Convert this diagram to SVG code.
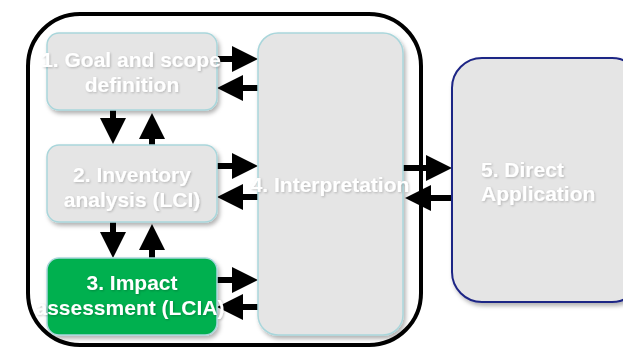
<svg xmlns="http://www.w3.org/2000/svg" width="623" height="349" viewBox="0 0 623 349">
  <defs>
    <filter id="shadow" x="-10%" y="-10%" width="130%" height="130%">
      <feDropShadow dx="2" dy="3" stdDeviation="2" flood-color="#000" flood-opacity="0.3"/>
    </filter>
    <filter id="textShadow" x="-10%" y="-30%" width="120%" height="160%">
      <feDropShadow dx="1" dy="1" stdDeviation="1.2" flood-color="#000" flood-opacity="0.22"/>
    </filter>
    <marker id="head" viewBox="0 0 26 26" refX="0" refY="13" markerWidth="26" markerHeight="26" markerUnits="userSpaceOnUse" orient="auto">
      <path d="M0,0 L26,13 L0,26 Z" fill="#000"/>
    </marker>
    <style>
      .frame { fill: none; stroke: #000; stroke-width: 4; }
      .step { fill: #e5e5e5; stroke: #a9d6db; stroke-width: 1.5; filter: url(#shadow); }
      .active { fill: #00b050; stroke: #a9d6db; stroke-width: 1.5; filter: url(#shadow); }
      .app { fill: #e5e5e5; stroke: #1f2585; stroke-width: 2; filter: url(#shadow); }
      .label { font-family: "Liberation Sans", Arial, sans-serif; font-weight: bold; font-size: 21px; fill: #fff; text-anchor: middle; filter: url(#textShadow); }
      .left { text-anchor: start; }
      .conn { stroke: #000; stroke-width: 6; fill: none; marker-end: url(#head); }
    </style>
  </defs>

  <rect width="623" height="349" fill="#fff"/>

  <!-- LCA framework boundary -->
  <rect class="frame" x="28" y="14" width="393" height="331" rx="52" ry="52"/>

  <g id="connectors">
    <!-- goal & scope <-> interpretation -->
    <line class="conn" x1="217" y1="59" x2="232" y2="59"/>
    <line class="conn" x1="260" y1="88" x2="243" y2="88"/>
    <!-- inventory <-> interpretation -->
    <line class="conn" x1="217" y1="166" x2="232" y2="166"/>
    <line class="conn" x1="260" y1="197" x2="243" y2="197"/>
    <!-- impact assessment <-> interpretation -->
    <line class="conn" x1="217" y1="280" x2="232" y2="280"/>
    <line class="conn" x1="260" y1="307" x2="243" y2="307"/>
    <!-- goal & scope <-> inventory -->
    <line class="conn" x1="113" y1="110" x2="113" y2="118"/>
    <line class="conn" x1="152" y1="145" x2="152" y2="139"/>
    <!-- inventory <-> impact assessment -->
    <line class="conn" x1="113" y1="222" x2="113" y2="232"/>
    <line class="conn" x1="152" y1="258" x2="152" y2="250"/>
    <!-- interpretation <-> direct application -->
    <line class="conn" x1="403" y1="168" x2="426" y2="168"/>
    <line class="conn" x1="452" y1="198" x2="431" y2="198"/>
  </g>

  <g id="goal-scope">
    <rect class="step" x="47" y="33" width="170" height="77" rx="12" ry="12"/>
    <text class="label" x="131" y="67">1. Goal and scope</text>
    <text class="label" x="132" y="92">definition</text>
  </g>

  <g id="inventory">
    <rect class="step" x="47" y="145" width="170" height="77" rx="12" ry="12"/>
    <text class="label" x="132" y="182">2. Inventory</text>
    <text class="label" x="132" y="207">analysis (LCI)</text>
  </g>

  <g id="impact-assessment">
    <rect class="active" x="47" y="258" width="170" height="77" rx="12" ry="12"/>
    <text class="label" x="132" y="290">3. Impact</text>
    <text class="label" x="130" y="315">assessment (LCIA)</text>
  </g>

  <g id="interpretation">
    <rect class="step" x="258" y="33" width="145" height="302" rx="20" ry="20"/>
    <text class="label" x="330" y="192">4. Interpretation</text>
  </g>

  <g id="direct-application">
    <rect class="app" x="452" y="58" width="190" height="244" rx="30" ry="30"/>
    <text class="label left" x="481" y="177">5. Direct</text>
    <text class="label left" x="481" y="201">Application</text>
  </g>
</svg>
